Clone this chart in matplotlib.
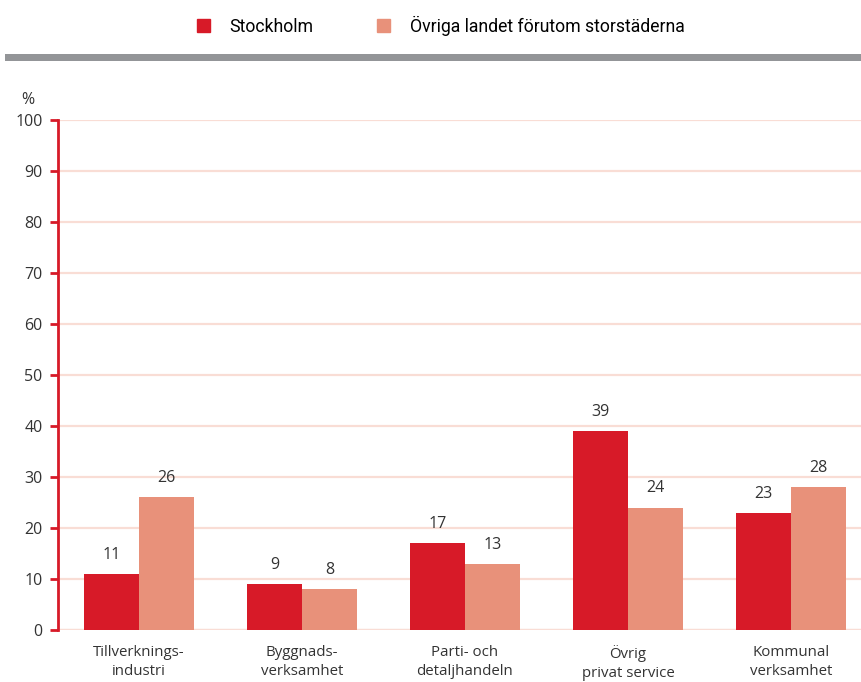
import matplotlib
matplotlib.use('agg')
import matplotlib.pyplot as plt
from matplotlib.patches import Patch, Rectangle
import numpy as np

# sector shares, percent
categories = ['Tillverknings-\nindustri', 'Byggnads-\nverksamhet', 'Parti- och\ndetaljhandeln',
              'Övrig\nprivat service', 'Kommunal\nverksamhet']
stockholm = [11, 9, 17, 39, 23]
ovriga = [26, 8, 13, 24, 28]
series_names = ['Stockholm', 'Övriga landet förutom storstäderna']
yticks = [0, 10, 20, 30, 40, 50, 60, 70, 80, 90, 100]

red = '#d71a28'
salmon = '#e8917a'
grid_pink = '#f9ddd5'
text_col = '#333333'

plt.rcParams['font.family'] = ['Open Sans', 'DejaVu Sans']

fig = plt.figure(figsize=(8.61, 6.82), dpi=100)
ax = fig.add_axes([58 / 861, 52 / 682, 1 - 58 / 861, 510 / 682])

x = np.arange(len(categories))
w = 55 / 163
b1 = ax.bar(x - w / 2, stockholm, w, color=red, zorder=3)
b2 = ax.bar(x + w / 2, ovriga, w, color=salmon, zorder=3)
ax.bar_label(b1, padding=8, fontsize=11.5, color=text_col)
ax.bar_label(b2, padding=8, fontsize=11.5, color=text_col)

ax.set_xlim(-0.497, 4.43)
ax.set_ylim(0, 100)
ax.set_yticks(yticks)
ax.set_xticks(x)
ax.set_xticklabels(categories, fontsize=10.8, color=text_col, linespacing=1.3)
ax.tick_params(axis='x', length=0, pad=11)
ax.tick_params(axis='y', length=6, width=2, color=red, labelsize=11.5,
               labelcolor=text_col, pad=5)
ax.grid(axis='y', color=grid_pink, linewidth=1.6, zorder=0)
ax.set_axisbelow(True)
ax.axhline(0, color=grid_pink, linewidth=1.6, zorder=1)
for s in ['top', 'right', 'bottom']:
    ax.spines[s].set_visible(False)
ax.spines['left'].set_color(red)
ax.spines['left'].set_linewidth(2)

ax.text(-0.03, 1.04, '%', transform=ax.transAxes, ha='right', va='center',
        fontsize=11.5, color=text_col)

# legend and grey separator bar
handles = [Patch(color=red), Patch(color=salmon)]
fig.legend(handles, series_names, loc='center', bbox_to_anchor=(0.512, 1 - 26 / 682),
           ncol=2, frameon=False, handlelength=0.75, handleheight=0.75,
           handletextpad=1.1, columnspacing=3.6,
           prop={'family': ['Liberation Sans Narrow', 'Roboto', 'DejaVu Sans'], 'size': 12.7})
fig.add_artist(Rectangle((5 / 861, 1 - 61 / 682), 1, 7 / 682, transform=fig.transFigure,
                         color='#939598', lw=0))

fig.savefig('out.png', dpi=100)
